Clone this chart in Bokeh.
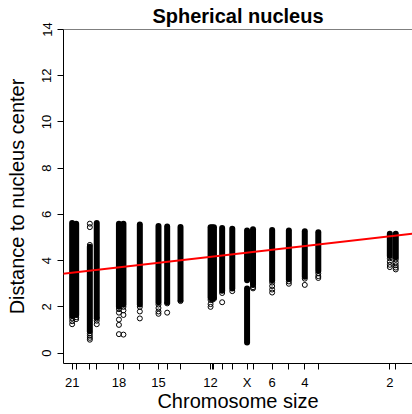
from bokeh.plotting import figure
from bokeh.models import Range1d, FixedTicker, Slope, Span
from bokeh.embed import file_html
from bokeh.resources import INLINE

# Chromosomes (x positions are chromosome sizes, Mb)
chrom_names = ["21", "22", "19", "20", "18", "17", "16", "15", "14", "13", "12", "11",
               "10", "9", "8", "X", "7", "6", "5", "4", "3", "2", "1"]
chrom_sizes = [48.1, 50.6, 59.1, 63.4, 77.2, 80.0, 90.2, 101.8, 107.2, 115.5, 134.2, 135.2,
               136.3, 141.4, 147.7, 156.9, 160.6, 172.5, 182.9, 192.8, 201.2, 245.7, 249.4]
shown_labels = ["21", "18", "15", "12", "X", "6", "4", "2"]
y_ticks = [0, 2, 4, 6, 8, 10, 12, 14]

# Dense runs of overlapping points: chromosome, lowest and highest distance
col_chrom = ["21", "22", "19", "20", "18", "17", "16", "15", "14", "13", "12", "11",
             "10", "9", "8", "X", "X", "7", "6", "5", "4", "3", "2", "1"]
col_low = [1.6, 1.65, 0.95, 1.55, 2.0, 2.1, 2.1, 2.2, 2.2, 2.3, 2.4, 2.35,
           2.4, 2.7, 2.8, 3.15, 0.46, 2.95, 3.15, 3.2, 3.3, 3.55, 4.2, 4.15]
col_high = [5.63, 5.6, 4.6, 5.63, 5.6, 5.6, 5.56, 5.5, 5.48, 5.46, 5.44, 5.44,
            5.44, 5.41, 5.38, 5.3, 2.8, 5.36, 5.33, 5.3, 5.27, 5.23, 5.16, 5.16]

# Isolated points
pt_chrom = ["21", "21", "21", "22", "22",
            "19", "19", "19", "19", "19", "19", "19",
            "20", "20", "20",
            "18", "18", "18", "18", "18",
            "17", "17", "17", "17",
            "16", "16", "16",
            "15", "15", "15", "15",
            "14", "14", "13", "12", "12", "12", "11", "10",
            "9", "9", "8", "7", "7",
            "6", "6", "6", "6", "5", "5", "4", "4",
            "3", "3", "3", "2", "2", "2", "2",
            "1", "1", "1", "1", "1"]
pt_dist = [1.5, 1.38, 1.25, 1.55, 1.47,
           5.6, 5.45, 4.68, 0.85, 0.75, 0.66, 0.58,
           1.5, 1.4, 1.25,
           1.9, 1.75, 1.45, 1.22, 0.82,
           2.0, 1.85, 1.65, 0.8,
           2.0, 1.8, 1.5,
           2.1, 1.95, 1.8, 1.7,
           2.15, 1.75, 2.25, 2.3, 2.12, 2.0, 2.3, 2.35,
           2.6, 2.2, 2.68, 2.85, 2.8,
           3.05, 2.9, 2.75, 2.62, 3.1, 3.0, 3.22, 2.95,
           3.45, 3.33, 3.25, 4.1, 3.95, 3.82, 3.72,
           4.05, 3.92, 3.8, 3.7, 3.62]

# Linear fit of distance on chromosome size
fit_intercept = 3.088
fit_slope = 0.008015

size_of = dict(zip(chrom_names, chrom_sizes))
col_x = [size_of[c] for c in col_chrom]
pt_x = [size_of[c] for c in pt_chrom]

FONT = "Liberation Sans"

p = figure(width=412, height=414, output_backend="svg", toolbar_location=None,
           x_range=Range1d(42.72, 259.8), y_range=Range1d(-0.45, 14.0),
           min_border_left=63, min_border_right=0, min_border_top=28, min_border_bottom=49,
           title="Spherical nucleus")
p.outline_line_color = None
p.xgrid.visible = False
p.ygrid.visible = False
p.background_fill_color = "white"
p.border_fill_color = "white"

p.title.text_font = FONT
p.title.text_font_size = "20px"
p.title.text_font_style = "bold"
p.title.align = "center"
p.title.text_color = "black"
p.title.standoff = 5

p.segment(x0=col_x, y0=col_low, x1=col_x, y1=col_high, line_width=6,
          line_cap="round", line_color="black")
p.scatter(x=pt_x, y=pt_dist, marker="circle", size=5, fill_color=None,
          line_color="black", line_width=1)

p.add_layout(Slope(gradient=fit_slope, y_intercept=fit_intercept,
                   line_color="red", line_width=2))
p.add_layout(Span(location=14.0, dimension="width", line_color="black", line_width=1))

xa = p.xaxis[0]
xa.ticker = FixedTicker(ticks=chrom_sizes)
xa.major_label_overrides = {s: (n if n in shown_labels else "") for n, s in zip(chrom_names, chrom_sizes)}
xa.axis_label = "Chromosome size"

ya = p.yaxis[0]
ya.ticker = FixedTicker(ticks=y_ticks)
ya.axis_label = "Distance to nucleus center"
ya.major_label_orientation = "vertical"

for ax in (xa, ya):
    ax.minor_tick_line_color = None
    ax.major_tick_in = 0
    ax.major_tick_out = 6
    ax.axis_line_color = "black"
    ax.major_tick_line_color = "black"
    ax.major_label_text_font = FONT
    ax.major_label_text_font_size = "13px"
    ax.major_label_text_color = "black"
    ax.axis_label_text_font = FONT
    ax.axis_label_text_font_size = "20px"
    ax.axis_label_text_font_style = "normal"
    ax.axis_label_text_color = "black"

xa.major_label_standoff = 5
xa.axis_label_standoff = -3
ya.major_label_standoff = 6
ya.axis_label_standoff = 12

open("out.html", "w").write(file_html(p, INLINE))
